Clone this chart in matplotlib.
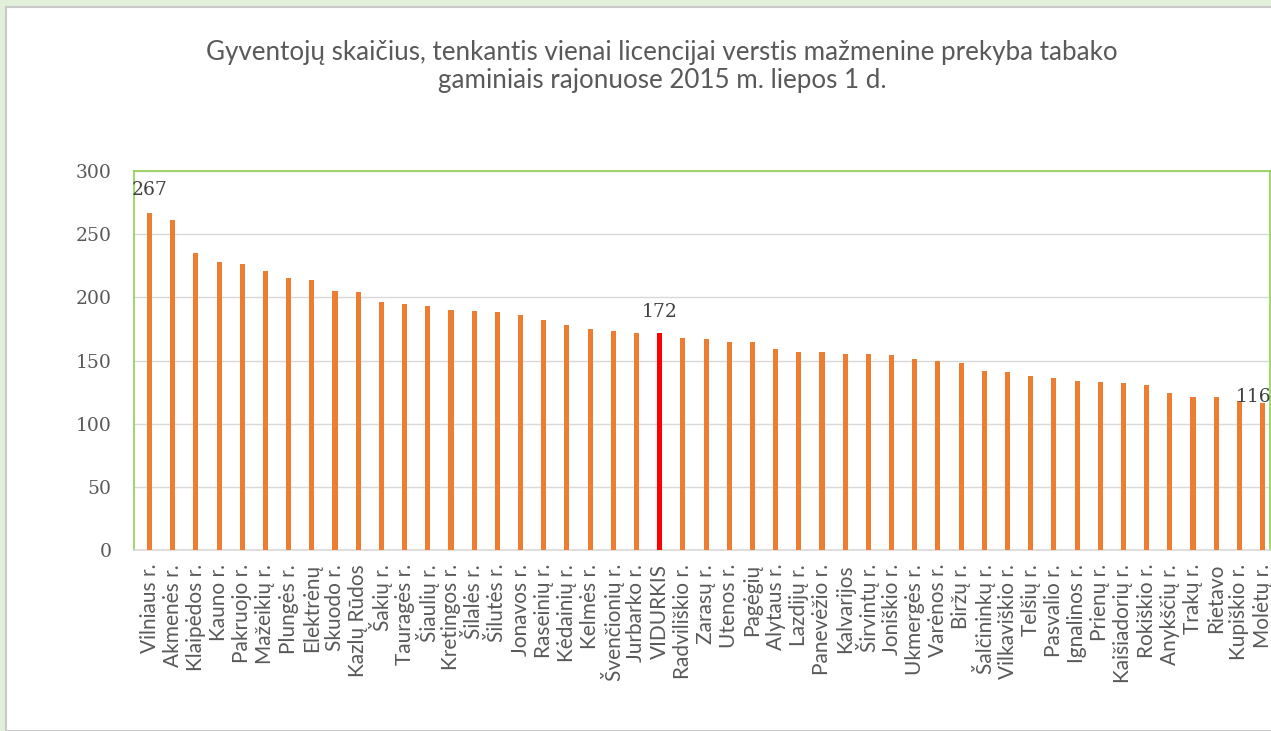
"""Gyventojų skaičius vienai tabako licencijai – stulpelinė diagrama."""
import matplotlib
matplotlib.use("Agg")
import matplotlib.pyplot as plt
from matplotlib.patches import Rectangle

# rajonai ir reikšmės (nuskaityta iš paveikslo)
rajonai = [
    "Vilniaus r.", "Akmenės r.", "Klaipėdos r.", "Kauno r.", "Pakruojo r.",
    "Mažeikių r.", "Plungės r.", "Elektrėnų", "Skuodo r.", "Kazlų Rūdos",
    "Šakių r.", "Tauragės r.", "Šiaulių r.", "Kretingos r.", "Šilalės r.",
    "Šilutės r.", "Jonavos r.", "Raseinių r.", "Kėdainių r.", "Kelmės r.",
    "Švenčionių r.", "Jurbarko r.", "VIDURKIS", "Radviliškio r.", "Zarasų r.",
    "Utenos r.", "Pagėgių", "Alytaus r.", "Lazdijų r.", "Panevėžio r.",
    "Kalvarijos", "Širvintų r.", "Joniškio r.", "Ukmergės r.", "Varėnos r.",
    "Biržų r.", "Šalčininkų r.", "Vilkaviškio r.", "Telšių r.", "Pasvalio r.",
    "Ignalinos r.", "Prienų r.", "Kaišiadorių r.", "Rokiškio r.", "Anykščių r.",
    "Trakų r.", "Rietavo", "Kupiškio r.", "Molėtų r.",
]
gyventojai = [
    267, 261, 235, 228, 226, 221, 215, 214, 205, 204,
    196, 195, 193, 190, 189, 188, 186, 182, 178, 175,
    173, 172, 172, 168, 167, 165, 165, 159, 157, 157,
    155, 155, 154, 151, 150, 148, 142, 141, 138, 136,
    134, 133, 132, 131, 124, 121, 121, 118, 116,
]
# rodomos reikšmės: (indeksas, tekstas, poslinkis taškais)
zymos = [(0, "267", (0, 16)), (22, "172", (0, 15)), (48, "116", (-6.5, 4.5))]

TITLE = ("Gyventojų skaičius, tenkantis vienai licencijai verstis mažmenine prekyba tabako\n"
         "gaminiais rajonuose 2015 m. liepos 1 d.")

ORANGE = "#ED7D31"
RED = "#FF0000"
GREEN = "#92D050"
GRID = "#D9D9D9"
TEXT = "#595959"
LABEL_FONT = ["Liberation Sans Narrow", "Lato", "DejaVu Sans"]

W, H = 1271, 731


def build_chart():
    fig = plt.figure(figsize=(W / 100, H / 100), dpi=100, facecolor="#E2EFDA")

    # baltas diagramos fonas su pilku rėmeliu
    bg = Rectangle((6 / W, 0), 1, 1 - 7 / H, transform=fig.transFigure,
                   facecolor="white", edgecolor="#C9C9C9", linewidth=1.5, zorder=-10)
    fig.patches.append(bg)

    ax = fig.add_axes([134 / W, 1 - 550 / H, (1270 - 134) / W, (550 - 171) / H])
    ax.set_zorder(5)
    ax.patch.set_alpha(0)
    x = list(range(len(rajonai)))
    colors = [RED if r == "VIDURKIS" else ORANGE for r in rajonai]
    ax.bar(x, gyventojai, width=0.22, color=colors, zorder=3)

    ax.set_ylim(0, 300)
    ax.set_xlim(-0.67, len(rajonai) - 0.68)
    ax.set_yticks(range(0, 301, 50))
    ax.yaxis.grid(True, color=GRID, linewidth=1.0, zorder=0)
    ax.set_axisbelow(True)

    for side in ("top", "left", "right"):
        ax.spines[side].set_color(GREEN)
        ax.spines[side].set_linewidth(1.2)
    ax.spines["bottom"].set_color(GRID)
    ax.spines["bottom"].set_linewidth(1.2)

    ax.tick_params(axis="both", length=0)
    ax.tick_params(axis="y", pad=16)
    ax.tick_params(axis="x", pad=10)
    for lab in ax.get_yticklabels():
        lab.set_fontfamily("DejaVu Serif")
        lab.set_fontsize(13.5)
        lab.set_color(TEXT)

    ax.set_xticks(x)
    ax.set_xticklabels(rajonai, rotation=90, ha="center", va="top",
                       family=LABEL_FONT, fontsize=15, color=TEXT)

    for i, txt, off in zymos:
        ax.annotate(txt, (x[i], gyventojai[i]), xytext=off, textcoords="offset points",
                    ha="center", va="center", family="DejaVu Serif", fontsize=13.5,
                    color="#404040", annotation_clip=False)

    fig.text(662 / W, 1 - 66.5 / H, TITLE, ha="center", va="center", multialignment="center",
             family=["Lato", "DejaVu Sans"], fontsize=18.7, color=TEXT, linespacing=1.15)

    fig.savefig("out.png", dpi=100, facecolor=fig.get_facecolor())
    plt.close(fig)


if __name__ == "__main__":
    build_chart()
